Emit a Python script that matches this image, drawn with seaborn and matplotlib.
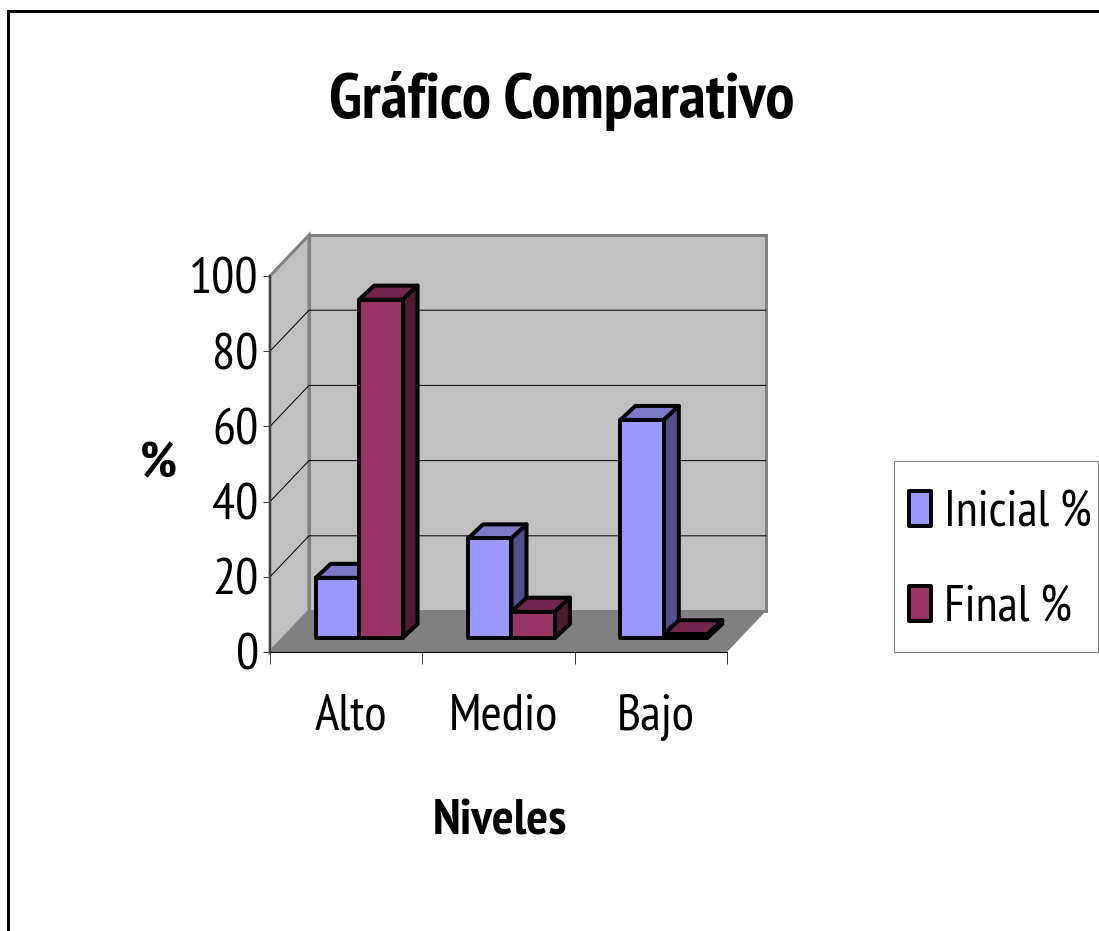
import pandas as pd
import seaborn as sns
from matplotlib import pyplot as plt
from matplotlib.lines import Line2D
from matplotlib.patches import Polygon, Rectangle

# valeurs
niveles = ['Alto', 'Medio', 'Bajo']
inicial = [16, 26.5, 58]
final = [90, 7, 1]
series = ['Inicial %', 'Final %']
yticks = [0, 20, 40, 60, 80, 100]

W, H = 1099, 931
px = 1 / 100 * 72  # un pixel en points
fig = plt.figure(figsize=(W / 100, H / 100), dpi=100)

sns.set_theme(style='white')
plt.rcParams['font.family'] = ['PT Sans Narrow', 'Liberation Sans', 'DejaVu Sans']
fs = 37


def rect(left, right, bottom, top):
    return [left / W, 1 - bottom / H, (right - left) / W, (bottom - top) / H]


df = pd.DataFrame({
    'Niveles': niveles * 2,
    'Serie': [series[0]] * 3 + [series[1]] * 3,
    'Valor': inicial + final,
})

# axes principal : plan avant du graphique
ax = fig.add_axes(rect(270, 727, 652, 276))
ax.set_xlim(-0.5, 2.5)
ax.set_ylim(0, 100)
sx = 3 / 457  # unités x par pixel
sy = 100 / 376  # unités y par pixel

# profondeur du fond
dx = 39 * sx
dy = 41 * sy
grey = '#808080'
wall = dict(facecolor='#C0C0C0', edgecolor=grey, lw=3 * px, zorder=0.5, joinstyle='miter')
ax.add_patch(Polygon([(-0.5, 0), (-0.5, 100), (-0.5 + dx, 100 + dy), (-0.5 + dx, dy)], clip_on=False, **wall))
ax.add_patch(Polygon([(-0.5 + dx, dy), (-0.5 + dx, 100 + dy), (2.5 + dx, 100 + dy), (2.5 + dx, dy)], clip_on=False, **wall))
ax.add_patch(Polygon([(-0.5, 0), (-0.5 + dx, dy), (2.5 + dx, dy), (2.5, 0)], clip_on=False,
                     facecolor=grey, edgecolor='none', zorder=0.6))
for t in yticks[1:-1]:
    ax.plot([-0.5, -0.5 + dx, 2.5 + dx], [t, t + dy, t + dy], color='black', lw=1 * px,
            zorder=0.7, clip_on=False)

ax.set_xticks([-0.5, 0.5, 1.5, 2.5])
ax.set_xticklabels([])
ax.set_xticks([0.03, 1.03, 2.03], minor=True)
ax.set_xticklabels(niveles, minor=True, fontsize=fs, color='black')
ax.tick_params(axis='x', which='major', length=12 * px, width=1 * px, color='#404040', bottom=True)
ax.tick_params(axis='x', which='minor', length=0, pad=30, bottom=False)
ax.set_yticks(yticks)
ax.set_yticklabels(yticks, fontsize=fs, color='black')
ax.tick_params(axis='y', length=7 * px, width=1 * px, color='#404040', left=True, pad=3)
for side in ['top', 'right']:
    ax.spines[side].set_visible(False)
ax.spines['left'].set_color('#404040')
ax.spines['bottom'].set_color('black')
ax.spines['left'].set_linewidth(2 * px)
ax.spines['bottom'].set_linewidth(1 * px)
ax.patch.set_alpha(0)
ax.set_xlabel('Niveles', fontsize=fs, fontweight='bold', color='black')
ax.xaxis.set_label_coords((500 - 270) / 457, -(822 - 652) / 376, transform=ax.transAxes)
ax.xaxis.label.set_verticalalignment('center')
ax.set_ylabel('%', fontsize=fs, fontweight='bold', rotation=0, color='black', ha='center', va='center')
ax.yaxis.set_label_coords((158 - 270) / 457, (652 - 465) / 376, transform=ax.transAxes)

# barres : même échelle, décalées vers le fond
bx = 13
by = 14
bar_ax = fig.add_axes(rect(270 + bx, 727 + bx, 652 - by, 276 - by))
front = {series[0]: '#9999FF', series[1]: '#993366'}
top_col = {series[0]: '#7A7AC6', series[1]: '#73264D'}
side_col = {series[0]: '#50508C', series[1]: '#4D1A33'}
sns.barplot(data=df, x='Niveles', y='Valor', hue='Serie', order=niveles, hue_order=series,
            palette=front, width=0.57, gap=0, saturation=1, edgecolor='black',
            linewidth=4 * px, ax=bar_ax)
handles, labels = bar_ax.get_legend_handles_labels()
bar_ax.get_legend().remove()
bar_ax.set_xlim(-0.5, 2.5)
bar_ax.set_ylim(0, 100)
bar_ax.axis('off')
bar_ax.patch.set_alpha(0)

ddx = 15 * sx
ddy = 14 * sy
edge = dict(edgecolor='black', lw=4 * px, joinstyle='round', clip_on=False)
for serie, container in zip(series, bar_ax.containers):
    for bar in container:
        x0 = bar.get_x()
        x1 = x0 + bar.get_width()
        h = bar.get_height()
        z = 2 + x0 * 2 + 1
        bar.set_zorder(z + 0.2)
        bar.set_clip_on(False)
        bar.set_joinstyle('round')
        bar_ax.add_patch(Polygon([(x0, h), (x0 + ddx, h + ddy), (x1 + ddx, h + ddy), (x1, h)],
                                 facecolor=top_col[serie], zorder=z, **edge))
        bar_ax.add_patch(Polygon([(x1, 0), (x1 + ddx, ddy), (x1 + ddx, h + ddy), (x1, h)],
                                 facecolor=side_col[serie], zorder=z, **edge))

fig.suptitle('Gráfico Comparativo', x=562 / W, y=1 - 101 / H, ha='center', va='center',
             fontsize=47, fontweight='bold', color='black')

# cadre de la légende dessiné à part pour garder sa taille
fig.add_artist(Rectangle((894 / W, 1 - 652 / H), 204 / W, 191 / H, transform=fig.transFigure,
                         facecolor='white', edgecolor=grey, lw=1 * px))
leg = fig.legend(handles, labels, loc='upper left', bbox_to_anchor=(894 / W, 1 - 475 / H),
                 bbox_transform=fig.transFigure, fontsize=36, frameon=False, borderaxespad=0,
                 handlelength=0.43, handleheight=0.71, handletextpad=0.27, labelspacing=0.98,
                 borderpad=0.3, labelcolor='black')
for h in leg.legend_handles:
    h.set_linewidth(4 * px)
    h.set_joinstyle('round')

# cadre coupé : seulement en haut et à gauche
fig.add_artist(Line2D([8 / W, 8 / W, 1], [0, 1 - 10.5 / H, 1 - 10.5 / H], color='black',
                      lw=3 * px, solid_joinstyle='miter'))

fig.savefig('out.png', dpi=100, facecolor='white')
